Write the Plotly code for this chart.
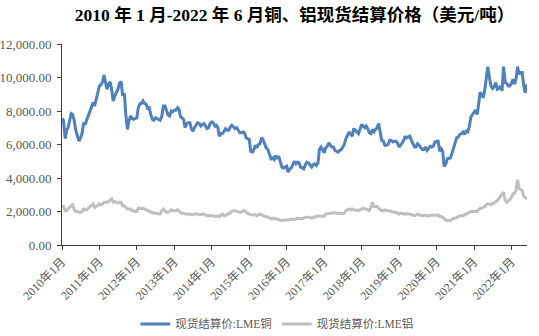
import pandas as pd
import plotly.graph_objects as go

# Semi-monthly observations (1st and 15th of each month), 2010-01 .. 2022-06, USD/t
copper = [
    # 2010
    7550, 7450, 6350, 6850, 7000, 7350, 7850, 7800, 7400, 6850, 6500, 6200,
    6400, 6650, 7300, 7200, 7500, 7750, 8000, 8250, 8500, 8300, 8700, 9200,
    # 2011
    9500, 9550, 9750, 10150, 9600, 9300, 9600, 9750, 9250, 8600, 8900, 9100,
    9300, 9650, 9750, 8900, 9050, 7800, 6900, 7400, 7700, 7550, 7500, 7550,
    # 2012
    7600, 8200, 8450, 8450, 8600, 8450, 8400, 8150, 8200, 7800, 7500, 7450,
    7600, 7550, 7500, 7450, 7700, 8300, 8300, 8100, 7750, 7700, 8000, 7950,
    # 2013
    8050, 8050, 8200, 8100, 7650, 7600, 7500, 7000, 7250, 7300, 7300, 6950,
    6800, 7000, 7200, 7300, 7250, 7100, 7200, 7250, 7100, 6950, 7000, 7250,
    # 2014
    7350, 7300, 7100, 7150, 7000, 6500, 6650, 6650, 6800, 6950, 6850, 6850,
    7050, 7150, 7050, 6950, 7000, 6850, 6700, 6700, 6750, 6700, 6400, 6350,
    # 2015
    6300, 5600, 5550, 5700, 5950, 5800, 6000, 6050, 6400, 6300, 6000, 5800,
    5700, 5450, 5150, 5200, 5100, 5350, 5150, 5300, 4850, 4650, 4600, 4650,
    # 2016
    4700, 4350, 4550, 4600, 4850, 5000, 4850, 4950, 4900, 4650, 4600, 4550,
    4800, 4950, 4900, 4750, 4650, 4800, 4850, 4750, 4900, 5700, 5850, 5700,
    # 2017
    5500, 5800, 5900, 6100, 6000, 5850, 5850, 5650, 5600, 5550, 5650, 5700,
    5850, 6000, 6350, 6550, 6750, 6600, 6500, 6950, 6850, 6750, 6650, 6900,
    # 2018
    7200, 7100, 7000, 7100, 6950, 6700, 6650, 6900, 6750, 6900, 7000, 7250,
    6600, 6250, 6200, 5950, 5950, 6000, 6250, 6250, 6150, 6200, 6200, 6100,
    # 2019
    5850, 5950, 6100, 6250, 6500, 6400, 6450, 6500, 6250, 6050, 5850, 5850,
    6050, 5950, 5800, 5700, 5700, 5850, 5650, 5800, 5900, 5850, 5900, 6150,
    # 2020
    6150, 6250, 5600, 5750, 5600, 4700, 4850, 5150, 5200, 5200, 5500, 5750,
    6050, 6400, 6450, 6600, 6650, 6750, 6600, 6800, 6750, 7050, 7650, 7800,
    # 2021
    7900, 8050, 7800, 8450, 9100, 9000, 8800, 9250, 10000, 10650, 9950, 9500,
    9350, 9450, 9700, 9300, 9350, 9500, 9200, 10650, 9700, 9650, 9500, 9500,
    # 2022
    9650, 9900, 9600, 9950, 10650, 10200, 10300, 10300, 9500, 9100, 9600,
]

aluminium = [
    # 2010
    2250, 2300, 2050, 2050, 2150, 2250, 2350, 2400, 2100, 2000, 2000, 1950,
    1950, 2000, 2150, 2100, 2100, 2200, 2300, 2350, 2450, 2250, 2300, 2350,
    # 2011
    2450, 2400, 2450, 2550, 2550, 2550, 2600, 2700, 2750, 2550, 2600, 2550,
    2500, 2550, 2550, 2350, 2350, 2250, 2150, 2150, 2150, 2050, 2050, 2000,
    # 2012
    2000, 2200, 2150, 2150, 2200, 2150, 2050, 2050, 2050, 1950, 1950, 1900,
    1900, 1900, 1850, 1850, 2050, 2150, 2050, 1950, 1950, 2050, 2100, 2050,
    # 2013
    2050, 2050, 2100, 2050, 1950, 1900, 1900, 1850, 1850, 1850, 1850, 1800,
    1800, 1850, 1850, 1850, 1800, 1800, 1850, 1850, 1800, 1750, 1750, 1750,
    # 2014
    1750, 1750, 1700, 1700, 1750, 1700, 1800, 1850, 1750, 1750, 1850, 1850,
    1950, 2000, 2050, 2050, 2000, 1950, 1950, 1950, 2050, 2050, 1950, 1900,
    # 2015
    1850, 1800, 1800, 1800, 1800, 1750, 1800, 1850, 1800, 1750, 1700, 1700,
    1650, 1650, 1550, 1550, 1600, 1550, 1550, 1500, 1480, 1460, 1480, 1500,
    # 2016
    1500, 1480, 1520, 1550, 1530, 1530, 1550, 1600, 1560, 1550, 1580, 1620,
    1650, 1650, 1650, 1650, 1600, 1620, 1650, 1700, 1750, 1720, 1720, 1720,
    # 2017
    1720, 1850, 1850, 1880, 1900, 1920, 1900, 1920, 1900, 1920, 1900, 1870,
    1900, 1900, 2050, 2100, 2150, 2100, 2150, 2100, 2100, 2080, 2050, 2100,
    # 2018
    2200, 2200, 2150, 2150, 2100, 2050, 2250, 2550, 2300, 2300, 2300, 2200,
    2100, 2050, 2050, 2100, 2050, 2050, 2050, 2000, 1950, 1950, 1950, 1920,
    # 2019
    1850, 1900, 1850, 1850, 1870, 1880, 1850, 1850, 1830, 1800, 1750, 1780,
    1850, 1800, 1750, 1750, 1780, 1750, 1730, 1730, 1770, 1760, 1760, 1770,
    # 2020
    1780, 1800, 1700, 1700, 1650, 1600, 1480, 1460, 1480, 1450, 1550, 1600,
    1600, 1650, 1700, 1750, 1750, 1750, 1800, 1850, 1900, 1950, 2000, 2000,
    # 2021
    2000, 2000, 2000, 2100, 2200, 2200, 2250, 2300, 2400, 2450, 2450, 2400,
    2500, 2500, 2600, 2650, 2750, 2900, 3000, 3150, 2650, 2550, 2650, 2700,
    # 2022
    2850, 3050, 3100, 3300, 3900, 3400, 3300, 3250, 2900, 2850, 2750,
]

dates = pd.date_range("2010-01-01", periods=len(copper), freq="SMS")

years = list(range(2010, 2023))
tick_dates = [f"{y}-01-01" for y in years]
tick_labels = [f"{y}年1月" for y in years]

series_names = ["现货结算价:LME铜", "现货结算价:LME铝"]
series_colors = ["#4F81BD", "#BFBFBF"]

serif = "Liberation Serif, Times New Roman, Noto Sans CJK SC, serif"
label_color = "#595959"

fig = go.Figure()
for name, vals, color in zip(series_names, [copper, aluminium], series_colors):
    fig.add_trace(go.Scatter(
        x=dates, y=vals, mode="lines", name=name,
        line=dict(color=color, width=3),
    ))

fig.update_layout(
    width=539, height=336,
    margin=dict(l=62, r=12, t=44, b=91, autoexpand=False),
    paper_bgcolor="white", plot_bgcolor="white",
    title=dict(
        text="<b>2010 年 1 月-2022 年 6 月铜、铝现货结算价格（美元/吨）</b>",
        x=0.5, xanchor="center", xref="paper", y=0.955, yanchor="middle",
        font=dict(family=serif, size=17.5, color="black"),
    ),
    showlegend=True,
    legend=dict(
        orientation="h", x=0.462, xanchor="center", y=-0.393, yanchor="middle",
        font=dict(family=serif, size=11.5, color=label_color),
        itemwidth=30, tracegroupgap=0,
    ),
)

fig.update_xaxes(
    type="date",
    range=[dates[0], dates[-1]],
    tickvals=tick_dates, ticktext=tick_labels,
    tickangle=-45,
    tickfont=dict(family=serif, size=12, color=label_color),
    ticks="outside", ticklen=4, tickcolor="#404040",
    showline=True, linecolor="#404040", linewidth=1,
    showgrid=False, zeroline=False, automargin=False,
)

fig.update_yaxes(
    range=[0, 12000], dtick=2000, tickformat=",.2f",
    tickfont=dict(family=serif, size=13, color=label_color),
    ticks="outside", ticklen=4, tickcolor="#404040", ticklabelstandoff=3,
    showline=True, linecolor="#404040", linewidth=1,
    showgrid=False, zeroline=False, automargin=False,
)

fig.write_html("out.html")
